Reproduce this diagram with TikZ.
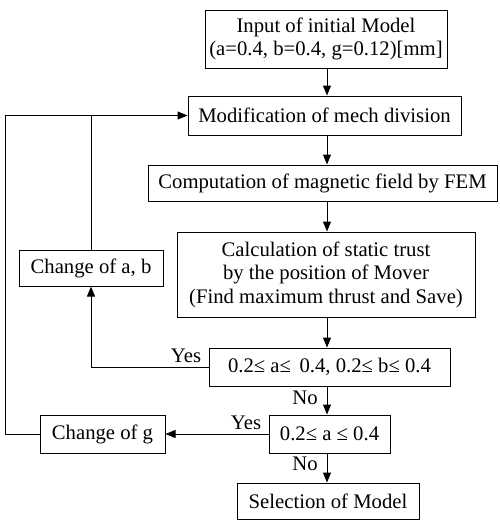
\documentclass[tikz,border=0pt]{standalone}
\usepackage{fontspec}
\setmainfont{Liberation Serif}
\usetikzlibrary{arrows.meta}
\tikzset{
  stepbox/.style={draw, line width=1pt, inner sep=0pt, align=center},
  flow/.style={line width=1pt, -{Triangle[length=10pt,width=8pt]}},
  link/.style={line width=1pt},
}

\begin{document}
\begin{tikzpicture}[x=1pt, y=-1pt, font=\fontsize{20.7}{23.5}\selectfont]
    \useasboundingbox (0,0) rectangle (500,520);

    % Hauptspalte
    \node[stepbox, minimum width=242pt, minimum height=58pt] (init) at (326,39)
        {Input of initial Model\\(a=0.4, b=0.4, g=0.12)[mm]};
    \node[stepbox, minimum width=273pt, minimum height=39pt] (mesh) at (324.5,115.5)
        {Modification of mech division};
    \node[stepbox, minimum width=349pt, minimum height=36pt] (fem) at (322.5,183)
        {Computation of magnetic field by FEM};
    \node[stepbox, minimum width=298pt, minimum height=85pt] (thrust) at (326,274.5)
        {Calculation of static trust\\by the position of Mover\\(Find maximum thrust and Save)};
    \node[stepbox, minimum width=241pt, minimum height=38pt] (cond1) at (329.5,367)
        {0.2≤ a≤ \,0.4, 0.2≤ b≤ 0.4};
    \node[stepbox, minimum width=121pt, minimum height=38pt] (cond2) at (329.5,434)
        {0.2≤ a ≤ 0.4};
    \node[stepbox, minimum width=182pt, minimum height=36pt] (sel) at (328,501)
        {Selection of Model};

    % Rueckfuehrung
    \node[stepbox, minimum width=144pt, minimum height=36pt] (cab) at (91,268)
        {Change of a, b};
    \node[stepbox, minimum width=125pt, minimum height=38pt] (cg) at (102.5,434)
        {Change of g};

    \coordinate (axis) at (327,0);
    \coordinate (outer) at (5,0);

    \draw[flow] (init.south -| axis) -- (mesh.north -| axis);
    \draw[flow] (mesh.south -| axis) -- (fem.north -| axis);
    \draw[flow] (fem.south -| axis) -- (thrust.north -| axis);
    \draw[flow] (thrust.south -| axis) -- (cond1.north -| axis);
    \draw[flow] (cond1.south -| axis) -- (cond2.north -| axis);
    \draw[flow] (cond2.south -| axis) -- (sel.north -| axis);

    \draw[flow] (cond1.west) -| (cab.south);
    \draw[link] (cab.north) -- (cab.north |- mesh.west);
    \draw[flow] (cond2.west) -- (cg.east);
    \draw[flow] (cg.west) -- (cg.west -| outer) |- (mesh.west);

    % Beschriftungen
    \node (yes1) at (186,356) {Yes};
    \node (yes2) at (246,423) {Yes};
    \node (no1) at (305,398) {No};
    \node (no2) at (305,464) {No};
\end{tikzpicture}
\end{document}
